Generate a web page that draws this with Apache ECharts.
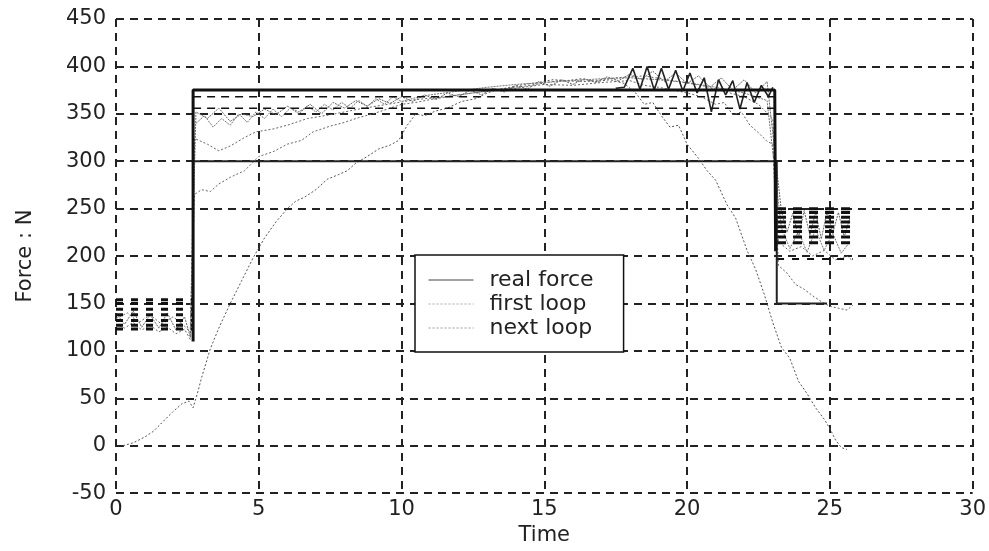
<!DOCTYPE html>
<html>
<head>
<meta charset="utf-8">
<script src="https://cdn.jsdelivr.net/npm/echarts@6/dist/echarts.min.js"></script>
<style>
html,body{margin:0;padding:0;background:#fff}
#chart{width:989px;height:551px}
</style>
</head>
<body>
<div id="chart"></div>
<script>
// thick step (real force)
var realT = [2.7, 2.7, 23.07, 23.1];
var realF = [110, 375, 375, 205];

// step profile 300 -> 150
var lowT = [2.7, 23.14, 23.14, 24.9];
var lowF = [300, 300, 150, 150];

// dashed levels drawn by the other loops
var startSpan = [0, 2.7];
var startLevels = [154, 150, 144, 138, 132, 127, 123];
var midSpan = [2.7, 23.07];
var midLevels = [368, 356];
var endSpan = [23.15, 25.8];
var endLevels = [250, 246, 241, 236, 231, 226, 220, 214];
var endLowLevel = [197];

// first loop (slow ramp)
var firstT = [0.25,0.6,1.0,1.3,1.6,2.0,2.3,2.55,2.7,2.85,3.0,3.3,3.6,4.0,4.4,4.8,5.2,5.6,6.0,6.3,6.6,7.0,7.4,7.8,8.1,8.4,8.8,9.2,9.6,9.9,10.2,10.5,10.8,11.2,11.6,12.1,12.6,13.0,13.3,13.8,14.3,14.8,15.3,15.8,16.3,16.8,17.3,17.8,18.2,18.5,18.8,19.1,19.4,19.7,20.0,20.4,20.7,21.0,21.4,21.7,22.1,22.4,22.7,23.0,23.3,23.6,23.9,24.2,24.5,24.8,25.0,25.2,25.4,25.6];
var firstF = [0,3,9,15,24,36,44,47,40,55,72,102,124,150,174,198,219,236,250,258,262,270,281,286,290,298,305,313,317,322,338,350,348,353,356,363,366,372,375,378,381,383,386,385,387,384,386,382,372,360,362,348,336,338,318,303,290,280,254,240,206,186,160,130,104,92,68,55,40,28,18,6,-2,-4];

// next loop, lowest curve
var nextAT = [0,0.3,0.6,0.9,1.2,1.5,1.8,2.1,2.4,2.6,2.75,3.0,3.3,3.6,4.0,4.5,5.0,5.5,6.0,6.5,6.9,7.5,8.0,8.5,9.0,9.5,10.0,10.5,11.0,12.0,13.0,14.0,15.0,16.0,17.0,18.0,18.5,19.0,19.5,20.0,20.5,21.0,21.3,21.6,21.9,22.2,22.5,22.8,23.0,23.2,23.5,23.8,24.1,24.4,24.7,25.0,25.3,25.6,25.8];
var nextAF = [128,124,130,122,127,120,125,118,123,112,265,270,268,276,283,290,305,310,318,322,331,337,341,346,350,355,360,362,365,370,374,377,381,380,383,385,380,378,375,372,368,360,362,349,352,338,330,321,318,190,182,170,165,158,152,147,145,143,148];

// next loop, middle curve
var nextBT = [0,0.4,0.8,1.2,1.6,2.0,2.4,2.6,2.75,3.2,3.6,4.0,4.5,4.9,5.5,6.0,6.7,7.5,8.5,9.5,10.5,11.5,12.5,13.5,14.5,15.5,16.5,17.5,18.5,19.5,20.5,21.5,22.0,22.5,23.0,23.2,23.6,24.0,24.4,24.8,25.2,25.6,25.8];
var nextBF = [134,140,130,138,128,136,126,120,324,318,311,316,325,331,334,338,345,349,355,360,365,368,372,376,380,385,384,388,390,385,380,372,368,360,345,215,205,210,200,206,196,200,195];

// next loop, noisy upper band
var nextCT = [0,0.3,0.6,0.9,1.2,1.5,1.8,2.1,2.4,2.6,2.8,3.2,3.6,4.0,4.4,4.8,5.2,5.6,6.0,6.4,6.8,7.2,7.6,8.0,8.4,8.8,9.2,9.6,10.0,10.4,10.8,11.2,11.6,12.0,12.4,12.8,13.2,13.6,14.0,14.4,14.8,15.2,15.6,16.0,16.4,16.8,17.2,17.6,18.0,18.4,18.8,19.2,19.6,20.0,20.4,20.8,21.2,21.6,22.0,22.4,22.8,23.3,23.5,23.7,23.9,24.1,24.3,24.5,24.7,24.9,25.1,25.3,25.5,25.7];
var nextCF = [140,128,142,125,138,124,140,122,136,115,352,345,356,342,350,347,355,349,358,352,360,350,362,356,364,358,366,361,368,363,370,365,372,368,375,370,377,373,380,376,384,379,386,381,387,383,389,385,392,386,395,384,393,382,390,378,388,375,386,372,384,248,225,245,220,248,222,246,218,247,224,246,220,240];

// next loop, lower part of the band
var nextDT = [2.8,3.1,3.4,3.7,4.0,4.3,4.6,4.9,5.2,5.5,5.8,6.1,6.4,6.7,7.0,7.3,7.6,7.9,8.2,8.5,8.8,9.1,9.4,9.7,10.0,10.5,11.0,11.5,12.0,13,14,15,16,17,18,19,20,21,22,22.8,23.3,23.6,23.9,24.2,24.5,24.8,25.1,25.4,25.7];
var nextDF = [340,348,336,345,338,350,341,352,345,355,347,356,350,358,352,360,354,362,356,364,358,366,360,368,363,367,370,372,374,378,381,383,385,387,388,386,383,378,372,364,230,208,226,204,228,206,224,203,215];

// last loop, dark oscillating trace near the end of the hold
var lastT = [17.5,17.8,18.1,18.35,18.6,18.85,19.1,19.35,19.6,19.85,20.1,20.35,20.6,20.85,21.1,21.35,21.6,21.85,22.1,22.35,22.6,22.85,23.0];
var lastF = [377,378,398,376,400,375,398,376,396,374,393,372,388,352,386,370,385,355,383,362,380,368,378];

function pairs(t, v) {
  var out = [];
  for (var i = 0; i < t.length; i++) out.push([t[i], v[i]]);
  return out;
}

var series = [];

function trace(name, t, v, color, width, type) {
  series.push({
    name: name, type: 'line', data: pairs(t, v), symbol: 'none', silent: true,
    itemStyle: { color: color },
    lineStyle: { color: color, width: width, type: type }, z: 2
  });
}

trace('first loop', firstT, firstF, '#555', 1, [2, 2]);
trace('next loop', nextAT, nextAF, '#666', 1, [2, 2]);
trace('next loop', nextBT, nextBF, '#666', 1, [2, 2]);
trace('next loop', nextCT, nextCF, '#666', 1, [2, 1]);
trace('next loop', nextDT, nextDF, '#777', 1, [2, 1]);
trace('next loop', lastT, lastF, '#222', 1.6, 'solid');

function levels(list, span, width, dash) {
  list.forEach(function (lv) {
    series.push({
      type: 'line', data: [[span[0], lv], [span[1], lv]], symbol: 'none', silent: true,
      lineStyle: { color: '#111', width: width, type: dash }, z: 3
    });
  });
}
levels(startLevels, startSpan, 3, [7, 8]);
levels(midLevels, midSpan, 1.5, [8, 6]);
levels(endLevels, endSpan, 3, [9, 7]);
levels(endLowLevel, endSpan, 2, [7, 8]);

series.push({
  type: 'line', data: pairs(lowT, lowF), symbol: 'none', silent: true,
  lineStyle: { color: '#222', width: 2 }, z: 3
});
series.push({
  name: 'real force', type: 'line', data: pairs(realT, realF), symbol: 'none', silent: true,
  itemStyle: { color: '#111' },
  lineStyle: { color: '#111', width: 3 }, z: 4
});

var chart = echarts.init(document.getElementById('chart'));
var font = 'DejaVu Sans';
var hidden = { opacity: 0 };
chart.setOption({
  animation: false,
  backgroundColor: '#fff',
  grid: { left: 116, right: 16, top: 19, bottom: 52 },
  legend: {
    left: 415, top: 255, orient: 'vertical',
    itemWidth: 45, itemHeight: 20, itemGap: 2,
    padding: [14, 30, 13, 13],
    backgroundColor: '#fff', borderColor: '#111', borderWidth: 1.5,
    itemStyle: hidden,
    textStyle: { fontFamily: font, fontSize: 22, color: '#222', padding: [0, 0, 0, 11] },
    data: [
      { name: 'real force', itemStyle: hidden, lineStyle: { width: 1, color: '#444', type: 'solid' } },
      { name: 'first loop', itemStyle: hidden, lineStyle: { width: 1, color: '#aaa', type: [2, 2] } },
      { name: 'next loop', itemStyle: hidden, lineStyle: { width: 1, color: '#999', type: [2, 2] } }
    ]
  },
  xAxis: {
    type: 'value', min: 0, max: 30, interval: 5,
    name: 'Time', nameLocation: 'middle', nameGap: 30,
    nameTextStyle: { fontFamily: font, fontSize: 21, color: '#222' },
    axisLine: { show: false }, axisTick: { show: false },
    axisLabel: { fontFamily: font, fontSize: 21, color: '#222', margin: 6 },
    splitLine: { show: true, lineStyle: { color: '#222', width: 2, type: [8, 6] } }
  },
  yAxis: {
    type: 'value', min: -50, max: 450, interval: 50,
    name: 'Force : N', nameLocation: 'middle', nameGap: 80, nameRotate: 90,
    nameTextStyle: { fontFamily: font, fontSize: 21, color: '#222' },
    axisLine: { show: false }, axisTick: { show: false },
    axisLabel: { fontFamily: font, fontSize: 21, color: '#222', margin: 10 },
    splitLine: { show: true, lineStyle: { color: '#222', width: 2, type: [8, 6] } }
  },
  series: series
});
</script>
</body>
</html>
